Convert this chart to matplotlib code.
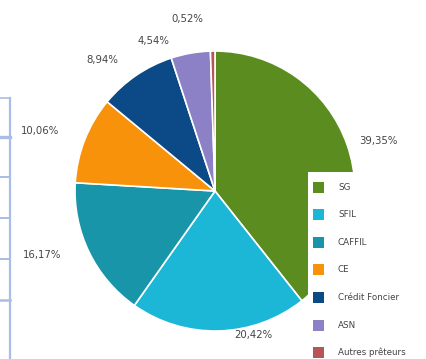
import matplotlib
matplotlib.use("Agg")
import matplotlib.pyplot as plt
from matplotlib.patches import Rectangle
from matplotlib.lines import Line2D

# Share of outstanding loans by lender (%)
lenders = ["SG", "SFIL", "CAFFIL", "CE", "Crédit Foncier", "ASN", "Autres prêteurs"]
shares = [39.35, 20.42, 16.17, 10.06, 8.94, 4.54, 0.52]
colors = ["#5b8c1f", "#1cb6d6", "#1895a8", "#f7920a", "#0b4a86", "#8c80c6", "#b55555"]

# Label anchor points (pixels, top-left origin)
label_px = [(378, 141), (253, 335), (42, 255), (40, 131), (102, 60), (153, 41), (187, 19)]

W, H = 426, 359
fig = plt.figure(figsize=(W / 100, H / 100), dpi=100)
fig.patch.set_facecolor("white")

def px_box(x0, y0, w, h):
    return [x0 / W, 1 - (y0 + h) / H, w / W, h / H]

def pixel_axes():
    a = fig.add_axes([0, 0, 1, 1])
    a.set_xlim(0, W)
    a.set_ylim(H, 0)
    a.axis("off")
    a.patch.set_alpha(0)
    return a

# Left table frame
frame = pixel_axes()
line_col = "#a9bde6"
frame.add_line(Line2D([10, 10], [98, H], color=line_col, lw=1.6))
for y, lw in [(98, 1.2), (137, 2.4), (177, 1.4), (218, 1.4), (259, 1.4), (300, 1.8)]:
    frame.add_line(Line2D([0, 10], [y, y], color=line_col, lw=lw))

# Pie
cx, cy, r = 215, 191, 140
ax = fig.add_axes(px_box(cx - r, cy - r, 2 * r, 2 * r))
ax.pie(shares, colors=colors, startangle=90, counterclock=False,
       wedgeprops=dict(edgecolor="white", linewidth=1.2))
ax.set_xlim(-1, 1)
ax.set_ylim(-1, 1)
ax.set_aspect("equal")
ax.axis("off")

# Overlay: percentage labels and legend panel
top = pixel_axes()
for v, (x, y) in zip(shares, label_px):
    top.text(x, y, f"{v:.2f}%".replace(".", ","), ha="center", va="center",
             fontsize=7.3, color="#444444", family="DejaVu Sans")

top.add_patch(Rectangle((308, 172), W - 308, H - 172, facecolor="white",
                        edgecolor="none", zorder=3))
row0, step = 187, 27.6
for i, (name, c) in enumerate(zip(lenders, colors)):
    y = row0 + i * step
    top.add_patch(Rectangle((313, y - 5.5), 11, 11, facecolor=c,
                            edgecolor="none", zorder=4))
    top.text(338, y, name, ha="left", va="center", fontsize=6.3,
             color="#444444", zorder=5, family="DejaVu Sans")

fig.savefig("out.png", dpi=100, facecolor="white")
